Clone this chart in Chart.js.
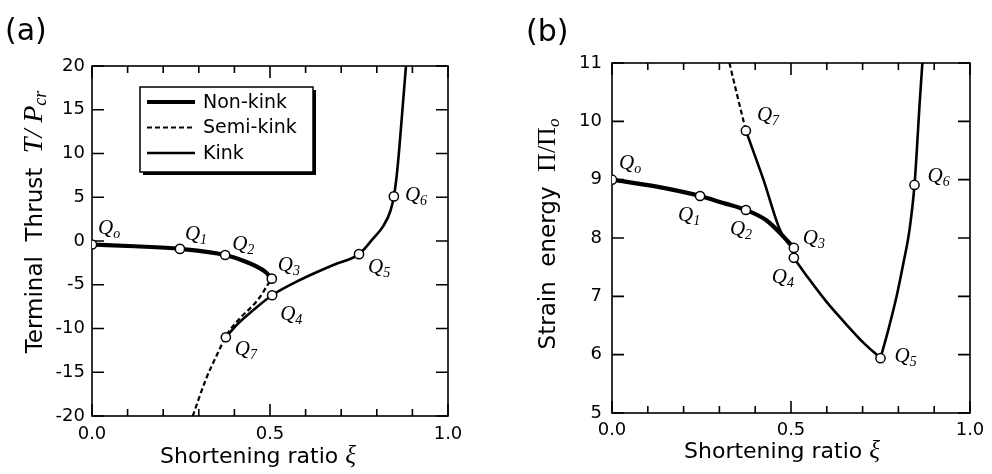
<!DOCTYPE html>
<html><head><meta charset="utf-8">
<script src="https://cdn.jsdelivr.net/npm/chart.js@4.4.0/dist/chart.umd.min.js"></script>
<style>
html,body{margin:0;padding:0;background:#fff;}
#wrap{position:relative;width:992px;height:474px;overflow:hidden;background:#fff;}
canvas{position:absolute;top:0;}
</style></head><body>
<div id="wrap">
<canvas id="ca" width="496" height="474" style="left:0"></canvas>
<canvas id="cb" width="496" height="474" style="left:496px"></canvas>
</div>
<script>
// ---------- data ----------
const seriesNames = ['Non-kink', 'Semi-kink', 'Kink'];
const xTickValues = [0, 0.1, 0.2, 0.3, 0.4, 0.5, 0.6, 0.7, 0.8, 0.9, 1.0];
const xLabelValues = [0, 0.5, 1.0];
const yTicksA = [-20, -15, -10, -5, 0, 5, 10, 15, 20];
const yTicksB = [5, 6, 7, 8, 9, 10, 11];
const pointNames = ['o', '1', '2', '3', '4', '5', '6', '7'];

// (a) terminal thrust
const nonKinkA_x = [0, 0.12, 0.247, 0.374, 0.434, 0.486, 0.505];
const nonKinkA_y = [-0.4, -0.6, -0.9, -1.6, -2.4, -3.5, -4.3];
const semiKinkA_x = [0.283, 0.319, 0.351, 0.382, 0.42, 0.449, 0.472, 0.492, 0.505];
const semiKinkA_y = [-20, -15.9, -13.0, -10.5, -8.65, -7.5, -6.4, -5.1, -4.3];
const kinkA_x = [0.376, 0.411, 0.453, 0.506, 0.584, 0.678, 0.75, 0.79, 0.818, 0.838, 0.848, 0.856, 0.863, 0.872, 0.882];
const kinkA_y = [-11.0, -9.4, -7.9, -6.2, -4.46, -2.74, -1.5, 0.3, 1.7, 3.4, 5.1, 7.5, 10.5, 15, 20];
const markA_x = [0, 0.247, 0.374, 0.505, 0.506, 0.75, 0.848, 0.376];
const markA_y = [-0.4, -0.9, -1.6, -4.3, -6.2, -1.5, 5.1, -11.0];

// (b) strain energy
const nonKinkB_x = [0, 0.125, 0.246, 0.311, 0.374, 0.432, 0.478, 0.508];
const nonKinkB_y = [9.0, 8.88, 8.72, 8.6, 8.48, 8.3, 8.03, 7.83];
const semiKinkB_x = [0.328, 0.348, 0.374];
const semiKinkB_y = [11, 10.49, 9.84];
const kinkB1_x = [0.374, 0.423, 0.469, 0.492, 0.508];
const kinkB1_y = [9.84, 9.0, 8.14, 7.91, 7.83];
const kinkB2_x = [0.508, 0.55, 0.6, 0.65, 0.7, 0.75];
const kinkB2_y = [7.66, 7.3, 6.9, 6.55, 6.22, 5.94];
const kinkB3_x = [0.75, 0.772, 0.795, 0.814, 0.831, 0.845, 0.86, 0.867];
const kinkB3_y = [5.94, 6.43, 7.0, 7.57, 8.14, 8.91, 10.37, 11];
const markB_x = [0, 0.246, 0.374, 0.508, 0.508, 0.75, 0.845, 0.374];
const markB_y = [9.0, 8.72, 8.48, 7.83, 7.66, 5.94, 8.91, 9.84];

// ---------- styles / label offsets (px) ----------
const labelOffA = [[6,-11],[5,-9],[7,-5],[6,-8],[8,25],[9,19],[11,5],[9,18]];
const labelOffB = [[7,-11],[-22,25],[-16,25],[9,-4],[-22,25],[14,4],[13,-3],[11,-10]];
const SANS = '"DejaVu Sans"';
const SERIF = '"Liberation Serif"';

const pts = (xs, ys) => xs.map((x, i) => ({x: x, y: ys[i]}));

const styleNon = {borderColor:'#000', borderWidth:4.2, pointRadius:0, cubicInterpolationMode:'monotone', showLine:true, fill:false};
const styleSemi = {borderColor:'#000', borderWidth:2.2, borderDash:[5,3], pointRadius:0, cubicInterpolationMode:'monotone', showLine:true, fill:false};
const styleKink = {borderColor:'#000', borderWidth:2.6, pointRadius:0, cubicInterpolationMode:'monotone', showLine:true, fill:false};
const styleMark = {showLine:false, pointRadius:4.6, pointBackgroundColor:'#fff', pointBorderColor:'#000', pointBorderWidth:1.5, borderColor:'#000', backgroundColor:'#fff'};

function drawSegs(ctx, segs, x0, y0) {
  let x = x0;
  segs.forEach(s => {
    ctx.font = s.font;
    ctx.fillText(s.text, x, y0 + (s.dy || 0));
    x += ctx.measureText(s.text).width;
  });
}
function segsWidth(ctx, segs) {
  let w = 0;
  segs.forEach(s => { ctx.font = s.font; w += ctx.measureText(s.text).width; });
  return w;
}

const decor = {
  id: 'decor',
  beforeDatasetsDraw(chart, args, o) {
    const ctx = chart.ctx, a = chart.chartArea, xs = chart.scales.x, ys = chart.scales.y;
    ctx.save();
    ctx.strokeStyle = '#000'; ctx.lineWidth = 1.6;
    ctx.strokeRect(a.left, a.top, a.right - a.left, a.bottom - a.top);
    ctx.beginPath();
    xs.ticks.forEach(t => {
      const px = xs.getPixelForValue(t.value);
      const L = xLabelValues.some(v => Math.abs(v - t.value) < 1e-6) ? 12 : 7;
      ctx.moveTo(px, a.bottom); ctx.lineTo(px, a.bottom - L);
      ctx.moveTo(px, a.top); ctx.lineTo(px, a.top + L);
    });
    ys.ticks.forEach(t => {
      const py = ys.getPixelForValue(t.value);
      ctx.moveTo(a.left, py); ctx.lineTo(a.left + 12, py);
      ctx.moveTo(a.right, py); ctx.lineTo(a.right - 12, py);
    });
    ctx.stroke();
    ctx.restore();
  },
  afterDatasetsDraw(chart, args, o) {
    const ctx = chart.ctx, a = chart.chartArea;
    ctx.save();
    ctx.fillStyle = '#000';
    ctx.textBaseline = 'alphabetic';
    ctx.textAlign = 'left';
    // point labels
    const meta = chart.getDatasetMeta(0);
    meta.data.forEach((el, i) => {
      const off = o.labelOff[i];
      const x = el.x + off[0], y = el.y + off[1];
      drawSegs(ctx, [
        {text:'Q', font:'italic 21px ' + SERIF},
        {text:pointNames[i], font:'italic 14px ' + SERIF, dy:4}
      ], x, y);
    });
    // panel label
    ctx.font = '30px ' + SANS;
    ctx.fillText(o.panel, o.panelX, o.panelY);
    // x title
    const xw = segsWidth(ctx, o.xTitle);
    drawSegs(ctx, o.xTitle, o.xTitleCx - xw / 2, a.bottom + o.xTitleDy);
    // y title (rotated)
    ctx.save();
    const yw = segsWidth(ctx, o.yTitle);
    ctx.translate(o.yTitleBx, o.yTitleCy);
    ctx.rotate(-Math.PI / 2);
    drawSegs(ctx, o.yTitle, -yw / 2, 0);
    ctx.restore();
    // legend
    if (o.legend) {
      const lx = a.left + 48, ly = a.top + 21, w = 173, h = 85;
      ctx.fillStyle = '#000';
      ctx.fillRect(lx + 3, ly + 3, w, h);
      ctx.fillStyle = '#fff';
      ctx.fillRect(lx, ly, w, h);
      ctx.strokeStyle = '#000'; ctx.lineWidth = 1.5;
      ctx.strokeRect(lx, ly, w, h);
      const st = [styleNon, styleSemi, styleKink];
      seriesNames.forEach((name, i) => {
        const yy = ly + 15 + i * 25.5;
        ctx.beginPath();
        ctx.lineWidth = st[i].borderWidth;
        ctx.setLineDash(st[i].borderDash || []);
        ctx.moveTo(lx + 7, yy); ctx.lineTo(lx + 55, yy);
        ctx.stroke();
        ctx.setLineDash([]);
        ctx.fillStyle = '#000';
        ctx.font = '19px ' + SANS;
        ctx.textBaseline = 'middle';
        ctx.fillText(name, lx + 63, yy + 1);
        ctx.textBaseline = 'alphabetic';
      });
    }
    ctx.restore();
  }
};

function makeChart(id, datasets, yTicks, ymin, ymax, geo, decorOpts) {
  return new Chart(document.getElementById(id), {
    type: 'scatter',
    data: {datasets: datasets},
    options: {
      responsive: false, animation: false, devicePixelRatio: 1,
      layout: {padding: {left: 0, top: geo.top, right: geo.right, bottom: 0}},
      plugins: {legend: {display: false}, tooltip: {enabled: false}, decor: decorOpts},
      scales: {
        x: {
          type: 'linear', min: 0, max: 1,
          afterBuildTicks: s => { s.ticks = xTickValues.map(v => ({value: v})); },
          afterFit: s => { s.height = geo.xh; },
          grid: {display: false, drawTicks: false},
          border: {display: false},
          ticks: {
            autoSkip: false, maxRotation: 0, padding: geo.xpad, color: '#000',
            font: {family: 'DejaVu Sans', size: 18},
            callback: v => xLabelValues.some(l => Math.abs(l - v) < 1e-6) ? Number(v).toFixed(1) : ''
          }
        },
        y: {
          type: 'linear', min: ymin, max: ymax,
          afterBuildTicks: s => { s.ticks = yTicks.map(v => ({value: v})); },
          afterFit: s => { s.width = geo.yw; },
          grid: {display: false, drawTicks: false},
          border: {display: false},
          ticks: {padding: geo.ypad, color: '#000', font: {family: 'DejaVu Sans', size: 18}}
        }
      }
    },
    plugins: [decor]
  });
}

makeChart('ca', [
  Object.assign({label:'points', data: pts(markA_x, markA_y)}, styleMark),
  Object.assign({label: seriesNames[0], data: pts(nonKinkA_x, nonKinkA_y)}, styleNon),
  Object.assign({label: seriesNames[1], data: pts(semiKinkA_x, semiKinkA_y)}, styleSemi),
  Object.assign({label: seriesNames[2], data: pts(kinkA_x, kinkA_y)}, styleKink)
], yTicksA, -20, 20, {top: 66, right: 48, xh: 58, yw: 92, xpad: 8, ypad: 7}, {
  panel: '(a)', panelX: 5, panelY: 40, labelOff: labelOffA, legend: true,
  xTitle: [{text:'Shortening ratio ', font:'22px ' + SANS}, {text:'\u03BE', font:'italic 25px ' + SERIF}],
  xTitleCx: 258, xTitleDy: 47,
  yTitle: [{text:'Terminal  Thrust  ', font:'23px ' + SANS}, {text:'T/ P', font:'italic 28px ' + SERIF}, {text:'cr', font:'italic 18px ' + SERIF, dy:4}],
  yTitleBx: 42, yTitleCy: 222
});

makeChart('cb', [
  Object.assign({label:'points', data: pts(markB_x, markB_y)}, styleMark),
  Object.assign({label: seriesNames[0], data: pts(nonKinkB_x, nonKinkB_y)}, styleNon),
  Object.assign({label: seriesNames[1], data: pts(semiKinkB_x, semiKinkB_y)}, styleSemi),
  Object.assign({label: seriesNames[2], data: pts(kinkB1_x, kinkB1_y)}, styleKink),
  Object.assign({label: seriesNames[2], data: pts(kinkB2_x, kinkB2_y)}, styleKink),
  Object.assign({label: seriesNames[2], data: pts(kinkB3_x, kinkB3_y)}, styleKink)
], yTicksB, 5, 11, {top: 63, right: 22, xh: 61, yw: 116, xpad: 7, ypad: 10}, {
  panel: '(b)', panelX: 30, panelY: 41, labelOff: labelOffB, legend: false,
  xTitle: [{text:'Shortening ratio ', font:'22px ' + SANS}, {text:'\u03BE', font:'italic 25px ' + SERIF}],
  xTitleCx: 286, xTitleDy: 45,
  yTitle: [{text:'Strain  energy  ', font:'23px ' + SANS}, {text:'\u03A0/\u03A0', font:'26px ' + SERIF}, {text:'o', font:'italic 17px ' + SERIF, dy:4}],
  yTitleBx: 59, yTitleCy: 234
});
</script>
</body></html>
